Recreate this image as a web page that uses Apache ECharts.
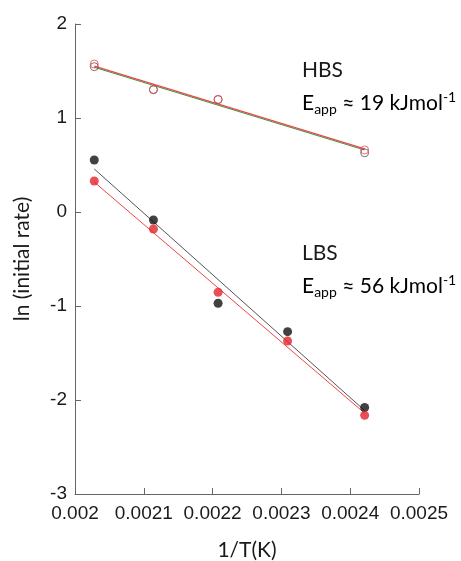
<!DOCTYPE html>
<html>
<head>
<meta charset="utf-8">
<script src="https://cdn.jsdelivr.net/npm/echarts@6/dist/echarts.min.js"></script>
<style>html,body{margin:0;padding:0;background:#fff;}#c{width:461px;height:561px;}</style>
</head>
<body>
<div id="c"></div>
<script>
// Data
const invT = [0.002028, 0.002114, 0.002208, 0.002309, 0.002421];
const hbsInvT = [0.002028, 0.002114, 0.002208, 0.002421];
const hbsRed = [1.574, 1.305, 1.199, 0.660];
const hbsGrey = [1.546, 1.300, 1.195, 0.630];
const lbsBlack = [0.553, -0.085, -0.971, -1.273, -2.080];
const lbsRed = [0.330, -0.181, -0.854, -1.372, -2.163];
// Fit line end points [start, end] at invT first/last
const fitX = [0.002028, 0.002421];
const fitHbsRed = [1.552, 0.672];
const fitHbsGreen = [1.540, 0.660];
const fitLbsBlack = [0.458, -2.112];
const fitLbsRed = [0.318, -2.140];
const xTickLabels = ['0.002', '0.0021', '0.0022', '0.0023', '0.0024', '0.0025'];
const yTickLabels = ['-3', '-2', '-1', '0', '1', '2'];

const pairs = (xs, ys) => xs.map((x, i) => [x, ys[i]]);

const chart = echarts.init(document.getElementById('c'), null, {renderer: 'canvas'});
const axisCol = '#666';
const txtCol = '#1a1a1a';
const tickFont = 'Liberation Sans';
const annFont = 'Lato';

const rich = {
  a: {fontSize: 21, fontFamily: annFont, color: txtCol, lineHeight: 26},
  sub: {fontSize: 14, fontFamily: annFont, color: txtCol, lineHeight: 26, padding: [12, 0, 0, 0], verticalAlign: 'bottom'},
  sup: {fontSize: 14, fontFamily: annFont, color: txtCol, lineHeight: 26, padding: [0, 0, 10, 0], verticalAlign: 'top'}
};

const option = {
  backgroundColor: '#fff',
  animation: false,
  grid: {left: 75, right: 42, top: 24, bottom: 67, containLabel: false, outerBoundsMode: 'none'},
  xAxis: {
    type: 'value', min: 0.002, max: 0.0025, interval: 0.0001,
    name: '1/T(K)', nameLocation: 'middle', nameGap: 46,
    nameTextStyle: {fontFamily: annFont, fontSize: 21, color: txtCol},
    axisLine: {show: true, onZero: false, lineStyle: {color: axisCol, width: 1}},
    axisTick: {show: true, inside: true, length: 6, lineStyle: {color: axisCol}},
    axisLabel: {fontFamily: tickFont, fontSize: 19, color: txtCol, margin: 10,
      formatter: (v, i) => xTickLabels[i]},
    splitLine: {show: false}
  },
  yAxis: {
    type: 'value', min: -3, max: 2, interval: 1,
    name: 'ln (initial rate)', nameLocation: 'middle', nameGap: 42,
    nameTextStyle: {fontFamily: annFont, fontSize: 21, color: txtCol},
    axisLine: {show: true, onZero: false, lineStyle: {color: axisCol, width: 1}},
    axisTick: {show: true, inside: true, length: 6, lineStyle: {color: axisCol}},
    axisLabel: {fontFamily: tickFont, fontSize: 19, color: txtCol, margin: 8,
      formatter: (v, i) => yTickLabels[i]},
    splitLine: {show: false}
  },
  series: [
    {type: 'line', data: pairs(fitX, fitLbsBlack), symbol: 'none', lineStyle: {color: '#555', width: 1}, z: 2},
    {type: 'line', data: pairs(fitX, fitLbsRed), symbol: 'none', lineStyle: {color: '#f0454a', width: 1}, z: 2},
    {type: 'line', data: pairs(fitX, fitHbsGreen), symbol: 'none', lineStyle: {color: '#3a9a48', width: 1.2}, z: 2},
    {type: 'line', data: pairs(fitX, fitHbsRed), symbol: 'none', lineStyle: {color: '#f0454a', width: 1.2}, z: 2},
    {type: 'scatter', data: pairs(invT, lbsBlack), symbol: 'circle', symbolSize: 9, itemStyle: {color: '#111'}, z: 3},
    {type: 'scatter', data: pairs(invT, lbsRed), symbol: 'circle', symbolSize: 9, itemStyle: {color: '#e3232b'}, z: 4},
    {type: 'scatter', data: pairs(hbsInvT, hbsGrey), symbol: 'circle', symbolSize: 8, itemStyle: {color: 'rgba(255,255,255,0)', borderColor: '#555', borderWidth: 1}, z: 3},
    {type: 'scatter', data: pairs(hbsInvT, hbsRed), symbol: 'circle', symbolSize: 8, itemStyle: {color: 'rgba(255,255,255,0)', borderColor: '#f0454a', borderWidth: 1}, z: 4}
  ],
  graphic: [
    {type: 'text', left: 302, top: 60, style: {text: 'HBS', font: '21px Lato', fill: txtCol}},
    {type: 'text', left: 302, top: 90, style: {text: '{a|E}{sub|app}{a| ≈ 19 kJmol}{sup|-1}', rich: rich}},
    {type: 'text', left: 302, top: 243, style: {text: 'LBS', font: '21px Lato', fill: txtCol}},
    {type: 'text', left: 302, top: 273, style: {text: '{a|E}{sub|app}{a| ≈ 56 kJmol}{sup|-1}', rich: rich}}
  ]
};
chart.setOption(option);
</script>
</body>
</html>
